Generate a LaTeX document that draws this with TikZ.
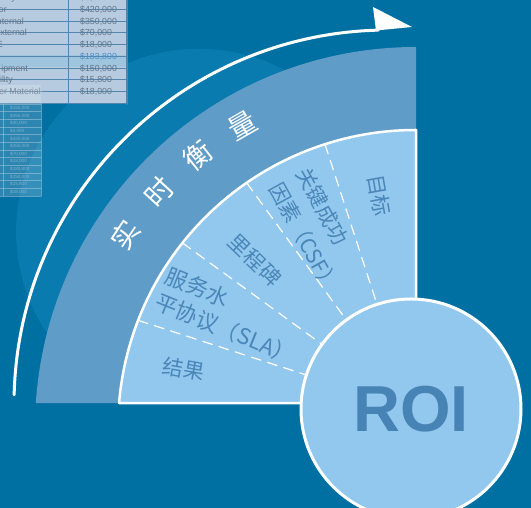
\documentclass[tikz,border=0pt]{standalone}
\usepackage{fontspec}
\setmainfont{Liberation Sans}
\newfontfamily\cjk{Noto Sans CJK SC}
\definecolor{bgblue}{HTML}{0070A2}
\definecolor{faintblue}{HTML}{0A7BAF}
\definecolor{bandblue}{HTML}{5F9CC7}
\definecolor{lightblue}{HTML}{92C8EE}
\definecolor{labelblue}{HTML}{4A86B8}
\definecolor{roiblue}{HTML}{4783B5}
\definecolor{cellfill}{HTML}{B6CBE0}
\definecolor{cellline}{HTML}{5485AC}
\definecolor{celltext}{HTML}{637487}
\definecolor{hlfill}{HTML}{9EC5DD}
\definecolor{hltext}{HTML}{4A8FCB}
\tikzset{
  cell/.style={font=\fontsize{8.8}{10}\selectfont, text=celltext, inner sep=0pt},
  ghostcell/.style={font=\fontsize{4.6}{5}\selectfont, text=cellfill, opacity=0.6, inner sep=0pt},
  titlechar/.style={text=white, font={\cjk\fontsize{28}{30}\selectfont}, inner sep=0pt},
  seglabel/.style={text=labelblue, font={\cjk\fontsize{21}{27}\selectfont}, align=left, inner sep=0pt},
  segline/.style={white, line width=1.2pt, dash pattern=on 10pt off 7pt},
  roicircle/.style={circle, draw=white, line width=3pt, fill=lightblue, minimum size=220pt, inner sep=0pt,
    text=roiblue, font=\fontsize{65}{70}\selectfont\bfseries}
}
\begin{document}
\begin{tikzpicture}[x=1pt, y=1pt, line join=round, line cap=round]
  \clip (0,0) rectangle (531,508);
  \fill[bgblue] (0,0) rectangle (531,508);
  \begin{scope}
    \clip (0,108) rectangle (531,508);
    \fill[faintblue] (198.8,276.5) circle (182.7);
  \end{scope}

  % table in the corner
  \fill[cellfill] (0,404) rectangle (127,510);
  \fill[hlfill] (0,440.7) rectangle (127,452.7);
  \foreach \i in {0,...,9}
    \draw[cellline, line width=0.8pt] (0,510.3-11.73*\i) -- (127,510.3-11.73*\i);
  \draw[cellline, line width=0.8pt] (68,404) -- (68,510);
  \draw[cellline, line width=1.6pt] (127,404) -- (127,510);
  \foreach \lab/\val/\rx [count=\i from 0] in {ility/{\$3,000}/16, or/{\$420,000}/7, nternal/{\$350,000}/24,
      xternal/{\$70,000}/27, E/{\$18,000}/3, {}/{}/0, ipment/{\$150,000}/28, ility/{\$15,800}/13,
      er Material/{\$18,000}/41}{
    \node[cell, anchor=base east] (lab\i) at (\rx,507.2-11.73*\i) {\lab};
    \node[cell, anchor=base west] (val\i) at (80,507.2-11.73*\i) {\val};
  }
  \node[cell, anchor=base west, text=hltext] (val5) at (80,507.2-11.73*5) {\$183,800};

  % ghost of the table
  \fill[white, opacity=0.18] (0,404) rectangle (41,423);
  \fill[cellfill, opacity=0.25] (0,312) rectangle (41,404);
  \foreach \j in {0,...,12}
    \draw[cellfill, opacity=0.5, line width=0.5pt] (0,404-7.65*\j) -- (41,404-7.65*\j);
  \draw[cellfill, opacity=0.5, line width=0.5pt] (3,312) -- (3,404) (41,312) -- (41,423);
  \foreach \v [count=\j from 0] in {{\$150,000}, {\$350,000}, {\$30,000}, {\$3,000}, {\$420,000}, {\$350,000},
      {\$70,000}, {\$18,000}, {\$183,800}, {\$150,000}, {\$15,800}, {\$18,000}}
    \node[ghostcell, anchor=west] (g\j) at (10,400-7.65*\j) {\v};

  % outer band
  \fill[bandblue] (416,105) -- (416,461) arc[start angle=90, end angle=176.24, radius=381] -- cycle;
  \foreach \ch/\ang [count=\k] in {实/146.4, 时/137.5, 衡/128.6, 量/119.9}
    \node[titlechar, rotate=\ang-90] (t\k) at ([shift={(416,80)}]\ang:349) {\ch};

  % inner sector
  \coordinate (rc) at (411,99);
  \fill[lightblue] (416,105) -- (416,378) arc[start angle=90, end angle=175.19, radius=298] -- cycle;
  \foreach \a/\t in {108/278.4, 126/279.6, 144/282.5, 162/286.9}
    \draw[segline] ([shift={(rc)}]\a:\t) -- (rc);
  \draw[white, line width=2.5pt] (416,105) -- (416,378) arc[start angle=90, end angle=175.19, radius=298] -- cycle;

  \node[seglabel, rotate=-10] (out) at ([shift={(rc)}]170:231) {结果};
  \node[seglabel, rotate=-22, font={\cjk\fontsize{22}{28}\selectfont}] (sla) at ([shift={(rc)}]152.7:203) {服务水\\平协议（SLA）};
  \node[seglabel, rotate=-44] (mile) at ([shift={(rc)}]136.3:215.7) {里程碑};
  \node[seglabel, rotate=-61, font={\cjk\fontsize{21}{31}\selectfont}] (csf) at ([shift={(rc)}]117.5:201.7) {关键成功\\因素（CSF）};
  \node[seglabel, rotate=-80] (goal) at ([shift={(rc)}]98.5:215.9) {目标};

  \node[roicircle] (roi) at (rc) {ROI};

  % arrow round the outside
  \draw[white, line width=3pt] ([shift={(388,104)}]178.6:374) arc[start angle=178.6, end angle=91.5, radius=374];
  \fill[white] (373,501) -- (412,481) -- (376,477.5) -- cycle;
\end{tikzpicture}
\end{document}
